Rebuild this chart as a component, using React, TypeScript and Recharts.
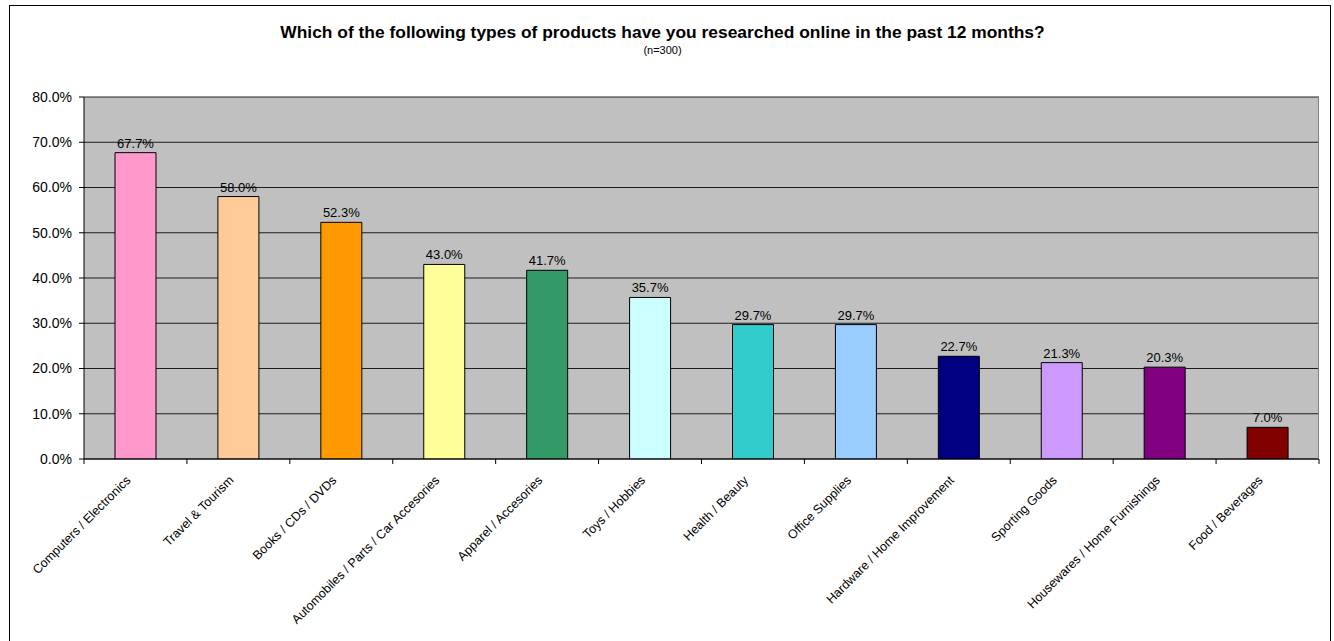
import React from 'react';
import { BarChart, Bar, XAxis, YAxis, CartesianGrid, Cell, LabelList } from 'recharts';

const categories = [
    'Computers / Electronics',
    'Travel & Tourism',
    'Books / CDs / DVDs',
    'Automobiles / Parts / Car Accesories',
    'Apparel / Accesories',
    'Toys / Hobbies',
    'Health / Beauty',
    'Office Supplies',
    'Hardware / Home Improvement',
    'Sporting Goods',
    'Housewares / Home Furnishings',
    'Food / Beverages',
];

const percents = [67.7, 58.0, 52.3, 43.0, 41.7, 35.7, 29.7, 29.7, 22.7, 21.3, 20.3, 7.0];

const barColors = [
    '#FF99CC', '#FFCC99', '#FF9900', '#FFFF99', '#339966', '#CCFFFF',
    '#33CCCC', '#99CCFF', '#000080', '#CC99FF', '#800080', '#800000',
];

const yTicks = [0, 10, 20, 30, 40, 50, 60, 70, 80];

const font = '"Liberation Sans", Arial, sans-serif';

const chartData = categories.map((name, i) => ({ name, value: percents[i] }));

const W = 1334;
const H = 641;
const margin = { top: 97, right: 15, bottom: 32, left: 0 };
const yAxisWidth = 84;
const xAxisHeight = 150;
const band = (W - margin.left - margin.right - yAxisWidth) / categories.length;

// rotated category label plus the tick marks at the category boundaries
function SlantedTick(props: any) {
    const { x, y, payload, index } = props;
    const axisY = y - 2;
    const last = index === categories.length - 1;
    return (
        <g>
            <line x1={x - band / 2} x2={x - band / 2} y1={axisY} y2={axisY + 5} stroke="#000" />
            {last && <line x1={x + band / 2} x2={x + band / 2} y1={axisY} y2={axisY + 5} stroke="#000" />}
            <g transform={`translate(${x - 4},${y + 20})`}>
                <text x={0} y={0} textAnchor="end" transform="rotate(-45)" fontSize={12.5} fill="#000" fontFamily={font}>
                    {payload.value}
                </text>
            </g>
        </g>
    );
}

export default function App() {
    return (
        <div style={{ position: 'absolute', left: 0, top: 0, width: W, height: H, background: '#fff', fontFamily: font }}>
            <div style={{ position: 'absolute', left: 9, top: 5, width: 1322, height: 645, border: '1px solid #000', boxSizing: 'border-box' }} />
            <div style={{ position: 'absolute', left: 0, width: 1325, top: 22, textAlign: 'center', fontSize: 17.4, fontWeight: 'bold', color: '#000' }}>
                Which of the following types of products have you researched online in the past 12 months?
            </div>
            <div style={{ position: 'absolute', left: 0, width: 1325, top: 44, textAlign: 'center', fontSize: 11, color: '#000' }}>
                (n=300)
            </div>
            <div style={{ position: 'absolute', left: 0, top: 0 }}>
                <BarChart width={W} height={H} data={chartData} margin={margin}>
                    <CartesianGrid
                        vertical={false}
                        fill="#C0C0C0"
                        fillOpacity={1}
                        stroke="#000"
                        strokeOpacity={0.85}
                    />
                    <XAxis
                        dataKey="name"
                        height={xAxisHeight}
                        interval={0}
                        axisLine={{ stroke: '#000' }}
                        tickLine={false}
                        tickSize={0}
                        tickMargin={2}
                        tick={<SlantedTick />}
                    />
                    <YAxis
                        width={yAxisWidth}
                        domain={[0, 80]}
                        ticks={yTicks}
                        interval={0}
                        allowDataOverflow
                        axisLine={{ stroke: '#000' }}
                        tickLine={{ stroke: '#000' }}
                        tickSize={5}
                        tickMargin={7}
                        tick={{ fontSize: 14, fill: '#000', fontFamily: font }}
                        tickFormatter={(v: number) => `${v.toFixed(1)}%`}
                    />
                    <Bar dataKey="value" barSize={41} stroke="#000" strokeWidth={1} isAnimationActive={false}>
                        {chartData.map((d, i) => (
                            <Cell key={d.name} fill={barColors[i]} />
                        ))}
                        <LabelList
                            dataKey="value"
                            position="top"
                            offset={5}
                            fontSize={13}
                            fill="#000"
                            fontFamily={font}
                            formatter={(v: any) => `${Number(v).toFixed(1)}%`}
                        />
                    </Bar>
                </BarChart>
            </div>
            <div style={{ position: 'absolute', left: W - margin.right - 1, top: margin.top, width: 1, height: H - margin.top - margin.bottom - xAxisHeight, background: '#808080' }} />
        </div>
    );
}
